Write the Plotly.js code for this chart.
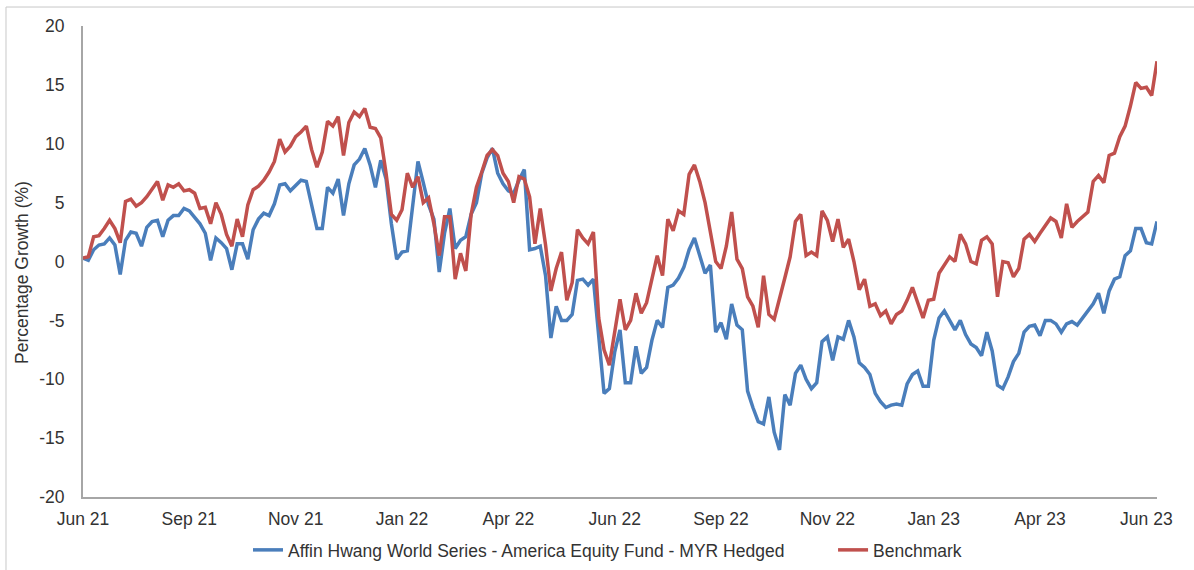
<!DOCTYPE html>
<html>
<head>
<meta charset="utf-8">
<script src="https://cdn.plot.ly/plotly-3.0.1.min.js"></script>
<style>
  html, body { margin: 0; padding: 0; background: #ffffff; }
  #chart { width: 1194px; height: 570px; }
</style>
</head>
<body>
<div id="chart"></div>
<script>
// Cumulative percentage growth, sampled roughly twice a week, Jun 2021 - Jun 2023
const fundName = "Affin Hwang World Series - America Equity Fund - MYR Hedged";
const benchmarkName = "Benchmark";
const yTitle = "Percentage Growth (%)";

const tickLabels = ["Jun 21", "Sep 21", "Nov 21", "Jan 22", "Apr 22", "Jun 22",
                    "Sep 22", "Nov 22", "Jan 23", "Apr 23", "Jun 23"];
const pointsPerTick = 20;

const yTickValues = [-20, -15, -10, -5, 0, 5, 10, 15, 20];
const yTickLabels = ["-20", "-15", "-10", "-5", "0", "5", "10", "15", "20"];

const fundValues = [
  0.3, 0.1, 1.0, 1.4, 1.5, 2.0, 1.4, -1.1, 1.8, 2.5,
  2.4, 1.3, 2.9, 3.4, 3.5, 2.1, 3.5, 3.9, 3.9, 4.5,
  4.3, 3.7, 3.2, 2.4, 0.1, 2.0, 1.6, 1.1, -0.7, 1.5,
  1.5, 0.2, 2.7, 3.6, 4.1, 3.9, 4.9, 6.5, 6.6, 6.0,
  6.5, 6.9, 6.8, 4.8, 2.8, 2.8, 6.3, 5.8, 7.0, 3.9,
  6.6, 8.2, 8.7, 9.6, 8.2, 6.3, 8.6, 7.0, 3.2, 0.2,
  0.8, 0.9, 5.0, 8.5, 6.7, 4.8, 3.6, -0.9, 2.4, 4.5,
  1.1, 1.8, 2.1, 4.0, 5.0, 7.5, 8.8, 9.6, 7.5, 6.6,
  6.0, 5.8, 6.9, 7.8, 1.0, 1.1, 1.3, -1.2, -6.5, -3.8,
  -5.0, -5.0, -4.5, -1.6, -1.5, -2.0, -1.5, -6.2, -11.2, -10.8,
  -7.7, -5.8, -10.3, -10.3, -7.2, -9.5, -9.0, -6.7, -5.0, -5.6,
  -2.2, -2.0, -1.4, -0.5, 1.0, 2.0, 0.5, -1.0, -0.3, -6.0,
  -5.2, -6.6, -3.6, -5.4, -5.8, -11.0, -12.4, -13.6, -13.8, -11.5,
  -14.5, -16.0, -11.3, -12.2, -9.5, -8.8, -10.0, -10.8, -10.3, -6.8,
  -6.4, -8.4, -6.4, -6.6, -5.0, -6.4, -8.6, -9.0, -9.6, -11.2,
  -11.9, -12.4, -12.2, -12.1, -12.2, -10.4, -9.6, -9.3, -10.6, -10.6,
  -6.7, -4.8, -4.2, -5.0, -5.8, -5.0, -6.2, -7.0, -7.3, -8.0,
  -6.0, -7.6, -10.5, -10.8, -9.8, -8.5, -7.8, -6.0, -5.5, -5.4,
  -6.3, -5.0, -5.0, -5.3, -6.0, -5.3, -5.1, -5.4, -4.8, -4.3,
  -3.6, -2.7, -4.4, -2.5, -1.5, -1.3, 0.5, 0.9, 2.8, 2.8,
  1.6, 1.5, 3.4
];

const benchmarkValues = [
  0.3, 0.4, 2.1, 2.2, 2.8, 3.5, 2.8, 1.6, 5.1, 5.3,
  4.7, 5.0, 5.5, 6.1, 6.8, 5.2, 6.5, 6.3, 6.6, 6.0,
  6.1, 5.8, 4.5, 4.6, 3.2, 5.0, 4.0, 2.3, 1.3, 3.6,
  2.1, 4.8, 6.1, 6.4, 6.9, 7.6, 8.5, 10.4, 9.3, 9.8,
  10.6, 11.0, 11.5, 9.5, 8.0, 9.3, 11.9, 11.5, 12.3, 9.0,
  11.8, 12.7, 12.3, 13.0, 11.4, 11.3, 10.5, 7.5, 4.0, 3.5,
  4.4, 7.5, 6.3, 7.2, 5.0, 5.4, 3.2, 0.5, 3.8, 3.8,
  -1.5, 0.7, -0.8, 4.0, 6.3, 7.6, 9.0, 9.5, 9.0, 7.5,
  6.8, 5.0, 7.2, 7.0, 5.5, 1.5, 4.5, 1.4, -2.5, -0.6,
  0.8, -3.3, -1.8, 2.7, 2.0, 1.5, 2.5, -4.8, -7.5, -8.8,
  -6.0, -3.2, -5.8, -5.0, -2.7, -4.4, -3.5, -1.5, 0.5, -1.2,
  3.6, 2.6, 4.3, 4.0, 7.4, 8.2, 6.8, 5.0, 2.4, 0.0,
  -0.6, 1.3, 4.2, 0.2, -0.6, -3.0, -3.8, -5.6, -1.2, -4.5,
  -4.9, -3.0, -1.4, 0.4, 3.4, 4.0, 0.5, 0.8, 0.5, 4.3,
  3.5, 1.7, 3.6, 1.2, 1.9, 0.0, -2.4, -1.5, -3.8, -3.6,
  -4.6, -4.2, -5.3, -4.5, -4.2, -3.3, -2.2, -3.5, -4.8, -3.3,
  -3.2, -1.0, -0.3, 0.4, 0.0, 2.3, 1.5, 0.0, -0.2, 1.8,
  2.1, 1.5, -3.0, 0.0, -0.1, -1.3, -0.6, 1.9, 2.3, 1.7,
  2.4, 3.0, 3.7, 3.4, 2.0, 4.9, 2.9, 3.4, 3.8, 4.2,
  6.8, 7.3, 6.7, 9.0, 9.2, 10.6, 11.5, 13.2, 15.2, 14.7,
  14.8, 14.1, 17.0
];

const xIndex = fundValues.map((_, i) => i);
const tickPositions = tickLabels.map((_, k) => k * pointsPerTick);

const textColor = "#333333";
const axisColor = "#a6a6a6";
const frameColor = "#c8c8c8";
const fontFamily = "Liberation Sans, Arial, sans-serif";
const fontSize = 17.5;

const traces = [
  {
    x: xIndex, y: fundValues, name: fundName, type: "scatter", mode: "lines",
    line: { color: "#4a7ebb", width: 3.5 }, legend: "legend"
  },
  {
    x: xIndex, y: benchmarkValues, name: benchmarkName, type: "scatter", mode: "lines",
    line: { color: "#c0504d", width: 3.5 }, legend: "legend2"
  }
];

// One legend per series so each entry sits at its own spot along the bottom row
const legendStyle = {
  orientation: "h", xref: "container", yref: "container",
  xanchor: "left", y: 0.0351, yanchor: "middle",
  font: { family: fontFamily, size: fontSize, color: textColor },
  bgcolor: "rgba(0,0,0,0)", borderwidth: 0
};

const layout = {
  width: 1194, height: 570,
  margin: { l: 83, r: 37, t: 26, b: 73 },
  paper_bgcolor: "#ffffff", plot_bgcolor: "#ffffff",
  font: { family: fontFamily, size: fontSize, color: textColor },
  showlegend: true,
  legend: Object.assign({ x: 0.2077 }, legendStyle),
  legend2: Object.assign({ x: 0.6977 }, legendStyle),
  xaxis: {
    type: "linear", range: [0, xIndex.length - 1], automargin: false,
    tickvals: tickPositions, ticktext: tickLabels,
    showgrid: false, zeroline: false,
    showline: true, linecolor: axisColor, linewidth: 2,
    ticks: "outside", ticklen: 5, tickcolor: "rgba(0,0,0,0)",
    tickfont: { family: fontFamily, size: fontSize, color: textColor }
  },
  yaxis: {
    range: [-20, 20], automargin: false,
    tickvals: yTickValues, ticktext: yTickLabels,
    showgrid: false, zeroline: false,
    showline: true, linecolor: axisColor, linewidth: 2,
    ticks: "outside", ticklen: 13, tickcolor: "rgba(0,0,0,0)",
    tickfont: { family: fontFamily, size: fontSize, color: textColor }
  },
  annotations: [
    { text: yTitle, textangle: -90, showarrow: false,
      xref: "paper", yref: "paper", x: -0.0568, y: 0.4777,
      xanchor: "center", yanchor: "middle",
      font: { family: fontFamily, size: fontSize, color: textColor } }
  ],
  shapes: [
    { type: "line", xref: "paper", yref: "paper", x0: -0.0717, x1: 1.05, y0: 1.0403, y1: 1.0403,
      line: { color: frameColor, width: 1 } },
    { type: "line", xref: "paper", yref: "paper", x0: -0.0717, x1: -0.0717, y0: 1.0403, y1: -0.2,
      line: { color: frameColor, width: 1 } }
  ]
};

Plotly.newPlot("chart", traces, layout, { displayModeBar: false, staticPlot: true });
</script>
</body>
</html>
